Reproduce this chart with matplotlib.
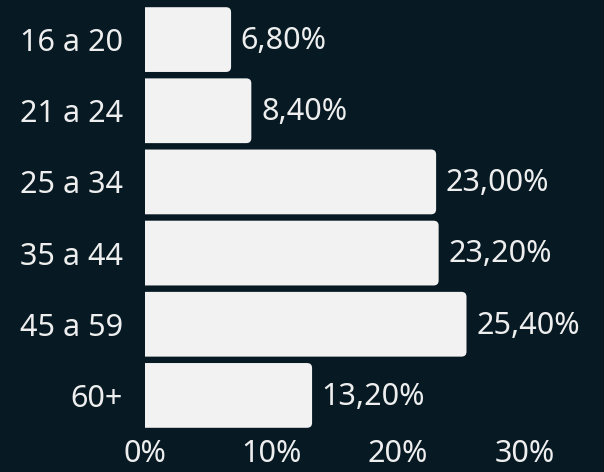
import matplotlib
matplotlib.use("Agg")
import matplotlib.pyplot as plt
from matplotlib.path import Path
from matplotlib.patches import PathPatch

# age groups and share of people (%)
categories = ["16 a 20", "21 a 24", "25 a 34", "35 a 44", "45 a 59", "60+"]
values = [6.8, 8.4, 23.0, 23.2, 25.4, 13.2]
value_labels = ["6,80%", "8,40%", "23,00%", "23,20%", "25,40%", "13,20%"]
xticks = [0, 10, 20, 30]
xtick_labels = ["0%", "10%", "20%", "30%"]

bg = "#071a24"
bar_color = "#f2f2f2"
text_color = "#eeeeee"

plt.rcParams['font.family'] = ['Noto Sans', 'DejaVu Sans']


def right_rounded(x, y, w, h, rx, ry):
    # rectangle with square left corners and rounded right corners
    verts = [(x, y), (x + w - rx, y), (x + w, y), (x + w, y + ry),
             (x + w, y + h - ry), (x + w, y + h), (x + w - rx, y + h),
             (x, y + h), (x, y)]
    codes = [Path.MOVETO, Path.LINETO, Path.CURVE3, Path.CURVE3,
             Path.LINETO, Path.CURVE3, Path.CURVE3,
             Path.LINETO, Path.CLOSEPOLY]
    return Path(verts, codes)


fig = plt.figure(figsize=(6.04, 4.72), dpi=100, facecolor=bg)
ax = fig.add_axes([145 / 604, 1 - 431 / 472, 443 / 604, 427 / 472])
ax.set_facecolor(bg)

bars = ax.barh(range(len(categories)), values, height=0.91, color=bar_color)
ax.set_xlim(0, 35)
ax.set_ylim(len(categories) - 0.5, -0.5)

for rect in bars:
    rect.set_visible(False)
    p = right_rounded(rect.get_x(), rect.get_y(), rect.get_width(),
                      rect.get_height(), 0.4, 0.07)
    ax.add_patch(PathPatch(p, fc=bar_color, ec="none"))

for i, (v, lab) in enumerate(zip(values, value_labels)):
    ax.annotate(lab, (v, i), xytext=(7, -1), textcoords="offset points",
                va="center", ha="left", fontsize=22, color=text_color)

ax.set_yticks(range(len(categories)))
ax.set_yticklabels(categories)
ax.set_xticks(xticks)
ax.set_xticklabels(xtick_labels)
ax.tick_params(axis="both", length=0, labelsize=22, colors=text_color)
ax.tick_params(axis="y", pad=16)
ax.tick_params(axis="x", pad=6)
for s in ax.spines.values():
    s.set_visible(False)

fig.savefig("out.png", dpi=100, facecolor=bg)
